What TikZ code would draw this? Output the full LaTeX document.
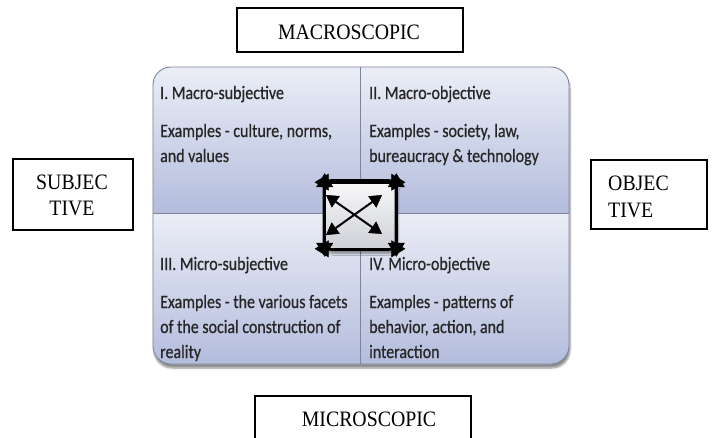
\documentclass[tikz,border=0pt]{standalone}
\usepackage{fontspec}
\setmainfont{Liberation Serif}[FakeStretch=0.9]
\newfontfamily\calib{Carlito}[FakeStretch=0.84,FakeBold=0.6]
\usetikzlibrary{arrows.meta,shadows.blur}
\definecolor{qtop}{HTML}{EBEEF7}
\definecolor{qbot}{HTML}{B3BCDC}
\definecolor{qline}{HTML}{7C849C}
\definecolor{hubtop}{HTML}{FAFAFB}
\definecolor{hubbot}{HTML}{CDCFD5}
\tikzset{
  labelbox/.style={draw=black, line width=1.6pt, fill=white, inner sep=0pt},
  serif/.style={font=\fontsize{22}{27}\selectfont, inner sep=0pt},
  qtext/.style={anchor=base west, inner sep=0pt, text=black!85, font=\calib\fontsize{19}{22}\selectfont},
  quad/.style={top color=qtop, bottom color=qbot},
  dbl/.style={draw=black, line width=2.6pt, >={Triangle[length=14pt,width=17pt,fill=black,line width=0.5pt]}, <->},
  dbls/.style={draw=black, line width=2pt, >={Triangle[length=12pt,width=14pt,fill=black,line width=0.5pt]}, <->}
}
\begin{document}
\begin{tikzpicture}[x=1pt,y=-1pt]
\useasboundingbox (0,0) rectangle (712,437);
% main panel with shadow
\path[blur shadow={shadow xshift=1pt, shadow yshift=-4pt, shadow blur steps=6, shadow opacity=45}, fill=white, rounded corners=18pt] (153,67) rectangle (569,364);
\begin{scope}
  \clip[rounded corners=18pt] (153,67) rectangle (569,364);
  \shade[quad] (153,67) rectangle (360,213);
  \shade[quad] (360,67) rectangle (569,213);
  \shade[quad] (153,213) rectangle (360,364);
  \shade[quad] (360,213) rectangle (569,364);
  \draw[qline, line width=0.9pt] (360,60) -- (360,370);
  \draw[qline, line width=0.9pt] (150,213) -- (575,213);
\end{scope}
\draw[qline, line width=0.9pt, rounded corners=18pt] (153,67) rectangle (569,364);
% quadrant texts
\node[qtext] (t1) at (160,99) {I. Macro-subjective};
\node[qtext] (t1a) at (160,137) {Examples - culture, norms,};
\node[qtext] (t1b) at (160,162) {and values};
\node[qtext] (t2) at (369,99) {II. Macro-objective};
\node[qtext] (t2a) at (369,137) {Examples - society, law,};
\node[qtext] (t2b) at (369,162) {bureaucracy \& technology};
\node[qtext] (t3) at (160,270) {III. Micro-subjective};
\node[qtext] (t3a) at (160,308) {Examples - the various facets};
\node[qtext] (t3b) at (160,333) {of the social construction of};
\node[qtext] (t3c) at (160,358) {reality};
\node[qtext] (t4) at (369,270) {IV. Micro-objective};
\node[qtext] (t4a) at (369,308) {Examples - patterns of};
\node[qtext] (t4b) at (369,333) {behavior, action, and};
\node[qtext] (t4c) at (369,358) {interaction};
% central hub
\node[draw=black, line width=2.6pt, rounded corners=7pt, top color=hubtop, bottom color=hubbot,
      minimum width=72pt, minimum height=69pt, inner sep=0pt,
      blur shadow={shadow xshift=2pt, shadow yshift=-4pt, shadow blur steps=5, shadow opacity=40}] (hub) at (360,215) {};
\coordinate (tl) at (hub.north west);
\coordinate (tr) at (hub.north east);
\coordinate (bl) at (hub.south west);
\coordinate (br) at (hub.south east);
\draw[dbl] ([xshift=-8pt,yshift=-3pt]tl) -- ([xshift=8pt,yshift=-3pt]tr);
\draw[dbl] ([xshift=-8pt,yshift=2pt]bl) -- ([xshift=8pt,yshift=2pt]br);
\draw[dbl] ([xshift=2pt,yshift=6pt]tl) -- ([xshift=2pt,yshift=-6pt]bl);
\draw[dbl] ([xshift=-1pt,yshift=6pt]tr) -- ([xshift=-1pt,yshift=-6pt]br);
\coordinate (d1) at (326,195);
\coordinate (d2) at (382,234);
\coordinate (d3) at (326,235);
\coordinate (d4) at (382,195);
\draw[dbls] (d1) -- (d2);
\draw[dbls] (d3) -- (d4);
% outer label boxes
\node[labelbox, minimum width=226pt, minimum height=44pt] (macro) at (350,30) {};
\node[serif, anchor=base] (macrot) at (349,39) {MACROSCOPIC};
\node[labelbox, minimum width=120pt, minimum height=71pt] (subj) at (73,194.5) {};
\node[serif, anchor=base] (subj1) at (72,189) {SUBJEC};
\node[serif, anchor=base] (subj2) at (72,215) {TIVE};
\node[labelbox, minimum width=116pt, minimum height=69pt] (obj) at (649,194.5) {};
\node[serif, anchor=base west] (obj1) at (608,190) {OBJEC};
\node[serif, anchor=base west] (obj2) at (608,217) {TIVE};
\draw[line width=1.6pt] (255,440) -- (255,396) coordinate (m1) -- (471,396) coordinate (m2) -- (471,440);
\node[serif, anchor=base] (micro) at (369,426) {MICROSCOPIC};
\end{tikzpicture}
\end{document}
